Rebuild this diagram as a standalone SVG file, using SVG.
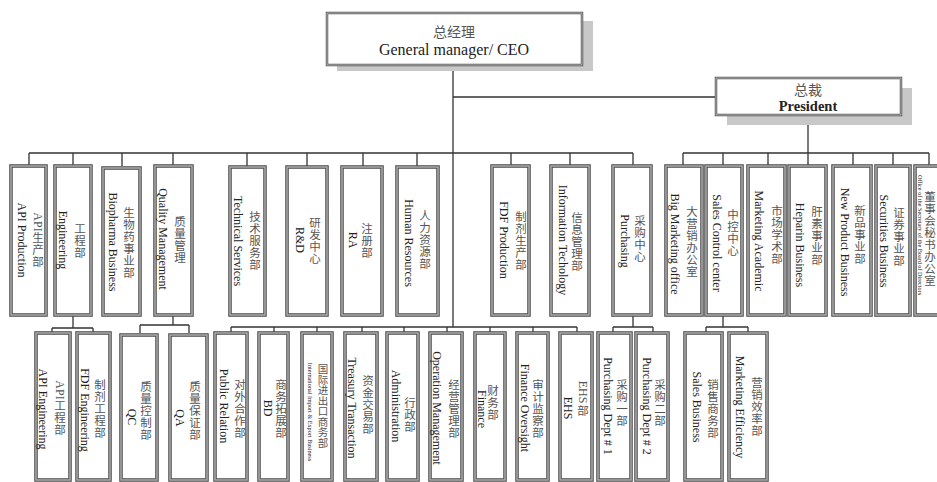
<svg xmlns="http://www.w3.org/2000/svg" width="937" height="482" viewBox="0 0 937 482">
<style>
.bg{fill:#fff}
.b{fill:#fff;stroke:#4a4a4a;stroke-width:3.5}
.bi{fill:none;stroke:#b4b4b4;stroke-width:1.4}
.sh{fill:#c8c8c8}
.ln{fill:none;stroke:#333;stroke-width:1.3}
.cn{font-family:"Noto Sans CJK SC","Noto Sans CJK TC",sans-serif;font-size:11.5px;fill:#555;text-anchor:middle}
.la{font-family:"Liberation Serif",serif;font-size:12px;fill:#555;text-anchor:middle;dominant-baseline:central}
.en{font-family:"Liberation Serif",serif;font-size:12px;fill:#222;writing-mode:vertical-rl;text-anchor:middle}
.tiny{font-size:6.2px}
.hc{font-family:"Noto Sans CJK SC",sans-serif;font-size:14px;fill:#555;text-anchor:middle}
.he{font-family:"Liberation Serif",serif;font-size:16px;fill:#222;text-anchor:middle}
</style>
<rect class="bg" x="0" y="0" width="937" height="482"/>

<g id="connectors">
<path class="ln" d="M453 65V327M453 97H716M808 115V153M29 153H633M683 153H929"/>
<path class="ln" d="M29 153V166M73 153V166M122 153V166M173 153V166M247 153V166M307 153V166M363 153V166M417 153V166M511 153V166M570 153V166M633 153V166"/>
<path class="ln" d="M683 153V166M723 153V166M768 153V166M808 153V166M853 153V166M893 153V166M929 153V166"/>
<path class="ln" d="M73 315V328M52 328H93M52 328V333M93 328V333"/>
<path class="ln" d="M173 315V325M140 325H189M140 325V333M189 325V333"/>
<path class="ln" d="M231 327H577M231 327V333M274 327V333M317 327V333M362 327V333M404 327V333M447 327V333M490 327V333M533 327V333M577 327V333"/>
<path class="ln" d="M633 315V327M613 327H653M613 327V333M653 327V333"/>
<path class="ln" d="M723 315V327M706 327H748M706 327V333M748 327V333"/>
</g>

<g id="ceo">
<rect class="sh" x="337" y="21" width="256" height="50"/>
<rect x="327" y="13" width="255" height="52" fill="#fff" stroke="#555" stroke-width="2.5"/>
<rect x="327" y="13" width="255" height="52" fill="none" stroke="#ccc" stroke-width="0.8"/>
<text class="hc" x="454" y="37">总经理</text>
<text class="he" x="454" y="55">General manager/ CEO</text>
</g>

<g id="president">
<rect class="sh" x="727" y="88" width="185" height="37"/>
<rect x="716" y="78" width="185" height="37" fill="#fff" stroke="#555" stroke-width="2.5"/>
<rect x="716" y="78" width="185" height="37" fill="none" stroke="#ccc" stroke-width="0.8"/>
<text class="hc" x="808" y="95">总裁</text>
<text class="he" x="808" y="111" style="font-size:14.5px;font-weight:bold">President</text>
</g>

<g id="api-production"><rect class="b" x="11" y="166" width="35" height="149"/><rect class="bi" x="11" y="166" width="35" height="149"/>
<text class="la" transform="translate(38 222) rotate(90)">API</text><text class="cn" x="38 38 38" y="242.2 254.2 266.2">生产部</text>
<text class="en" x="22" y="240">API Production</text></g>
<g id="engineering"><rect class="b" x="55" y="166" width="36" height="149"/><rect class="bi" x="55" y="166" width="36" height="149"/>
<text class="cn" x="80 80 80" y="232.5 244.5 256.5">工程部</text><text class="en" x="63" y="240">Engineering</text></g>
<g id="biopharma"><rect class="b" x="103" y="168" width="37" height="147"/><rect class="bi" x="103" y="168" width="37" height="147"/>
<text class="cn" x="129 129 129 129 129 129" y="216.5 228.5 240.5 252.5 264.5 276.5">生物药事业部</text><text class="en" x="113" y="242">Biopharma Business</text></g>
<g id="quality"><rect class="b" x="155" y="166" width="37" height="149"/><rect class="bi" x="155" y="166" width="37" height="149"/>
<text class="cn" x="180 180 180 180" y="225.5 237.5 249.5 261.5">质量管理</text><text class="en" x="163" y="239">Quality Management</text></g>
<g id="technical"><rect class="b" x="230" y="167" width="35" height="148"/><rect class="bi" x="230" y="167" width="35" height="148"/>
<text class="cn" x="255 255 255 255 255" y="220.5 232.5 244.5 256.5 268.5">技术服务部</text><text class="en" x="238" y="241">Technical  Services</text></g>
<g id="rnd"><rect class="b" x="287" y="167" width="40" height="148"/><rect class="bi" x="287" y="167" width="40" height="148"/>
<text class="cn" x="315 315 315 315" y="226.5 238.5 250.5 262.5">研发中心</text><text class="en" x="300" y="240">R&amp;D</text></g>
<g id="ra"><rect class="b" x="342" y="167" width="40" height="148"/><rect class="bi" x="342" y="167" width="40" height="148"/>
<text class="cn" x="367 367 367" y="232.5 244.5 256.5">注册部</text><text class="en" x="353" y="240">RA</text></g>
<g id="hr"><rect class="b" x="397" y="167" width="41" height="148"/><rect class="bi" x="397" y="167" width="41" height="148"/>
<text class="cn" x="425 425 425 425 425" y="219.5 231.5 243.5 255.5 267.5">人力资源部</text><text class="en" x="409" y="243">Human Resources</text></g>
<g id="fdf-production"><rect class="b" x="492" y="166" width="37" height="149"/><rect class="bi" x="492" y="166" width="37" height="149"/>
<text class="cn" x="521 521 521 521 521" y="220.5 232.5 244.5 256.5 268.5">制剂生产部</text><text class="en" x="504" y="240">FDF Production</text></g>
<g id="it"><rect class="b" x="551" y="166" width="38" height="149"/><rect class="bi" x="551" y="166" width="38" height="149"/>
<text class="cn" x="577 577 577 577 577" y="221.5 233.5 245.5 257.5 269.5">信息管理部</text><text class="en" x="563" y="240">Information  Techology</text></g>
<g id="purchasing"><rect class="b" x="613" y="166" width="38" height="149"/><rect class="bi" x="613" y="166" width="38" height="149"/>
<text class="cn" x="640 640 640 640" y="224.5 236.5 248.5 260.5">采购中心</text><text class="en" x="625" y="241">Purchasing</text></g>
<g id="big-marketing"><rect class="b" x="666" y="166" width="36" height="149"/><rect class="bi" x="666" y="166" width="36" height="149"/>
<text class="cn" x="692 692 692 692 692 692" y="215.5 227.5 239.5 251.5 263.5 275.5">大营销办公室</text><text class="en" x="675" y="244">Big Marketing office</text></g>
<g id="sales-control"><rect class="b" x="706" y="166" width="36" height="149"/><rect class="bi" x="706" y="166" width="36" height="149"/>
<text class="cn" x="733 733 733 733" y="218.5 230.5 242.5 254.5">中控中心</text><text class="en" x="717" y="243">Sales Control center</text></g>
<g id="marketing-academic"><rect class="b" x="748" y="166" width="37" height="149"/><rect class="bi" x="748" y="166" width="37" height="149"/>
<text class="cn" x="777 777 777 777 777" y="214.5 226.5 238.5 250.5 262.5">市场学术部</text><text class="en" x="759" y="241">Marketing Academic</text></g>
<g id="heparin"><rect class="b" x="789" y="166" width="37" height="149"/><rect class="bi" x="789" y="166" width="37" height="149"/>
<text class="cn" x="817 817 817 817 817" y="215.5 227.5 239.5 251.5 263.5">肝素事业部</text><text class="en" x="800" y="245">Heparin Business</text></g>
<g id="new-product"><rect class="b" x="833" y="166" width="38" height="149"/><rect class="bi" x="833" y="166" width="38" height="149"/>
<text class="cn" x="860 860 860 860 860" y="214.5 226.5 238.5 250.5 262.5">新品事业部</text><text class="en" x="845" y="242">New Product  Business</text></g>
<g id="securities"><rect class="b" x="876" y="166" width="34" height="149"/><rect class="bi" x="876" y="166" width="34" height="149"/>
<text class="cn" x="899 899 899 899 899" y="216.5 228.5 240.5 252.5 264.5">证券事业部</text><text class="en" x="884" y="241">Securities Business</text></g>
<g id="board-office"><rect class="b" x="915" y="166" width="30" height="149"/><rect class="bi" x="915" y="166" width="30" height="149"/>
<text class="cn" x="930 930 930 930 930 930 930 930" y="200.5 212.5 224.5 236.5 248.5 260.5 272.5 284.5">董事会秘书办公室</text><text class="en tiny" x="920" y="235">Office of the Secretary of the Board of Directors</text></g>

<g id="api-engineering"><rect class="b" x="36" y="333" width="34" height="147"/><rect class="bi" x="36" y="333" width="34" height="147"/>
<text class="la" transform="translate(60 390) rotate(90)">API</text><text class="cn" x="60 60 60" y="410.2 422.2 434.2">工程部</text>
<text class="en" x="43" y="409">API  Engineering</text></g>
<g id="fdf-engineering"><rect class="b" x="77" y="333" width="33" height="147"/><rect class="bi" x="77" y="333" width="33" height="147"/>
<text class="cn" x="100 100 100 100 100" y="388.5 400.5 412.5 424.5 436.5">制剂工程部</text><text class="en" x="85" y="410">FDF  Engineering</text></g>
<g id="qc"><rect class="b" x="121" y="335" width="36" height="145"/><rect class="bi" x="121" y="335" width="36" height="145"/>
<text class="cn" x="146 146 146 146 146" y="390.5 402.5 414.5 426.5 438.5">质量控制部</text><text class="en" x="132" y="417">QC</text></g>
<g id="qa"><rect class="b" x="170" y="335" width="37" height="145"/><rect class="bi" x="170" y="335" width="37" height="145"/>
<text class="cn" x="195 195 195 195 195" y="390.5 402.5 414.5 426.5 438.5">质量保证部</text><text class="en" x="180" y="418">QA</text></g>
<g id="public-relation"><rect class="b" x="215" y="333" width="32" height="147"/><rect class="bi" x="215" y="333" width="32" height="147"/>
<text class="cn" x="240 240 240 240 240" y="388.5 400.5 412.5 424.5 436.5">对外合作部</text><text class="en" x="224" y="406">Public Relation</text></g>
<g id="bd"><rect class="b" x="259" y="333" width="29" height="147"/><rect class="bi" x="259" y="333" width="29" height="147"/>
<text class="cn" x="281 281 281 281 281" y="388.5 400.5 412.5 424.5 436.5">商务拓展部</text><text class="en" x="268" y="408">BD</text></g>
<g id="intl-business"><rect class="b" x="302" y="333" width="30" height="147"/><rect class="bi" x="302" y="333" width="30" height="147"/>
<text class="cn" style="font-size:10.5px" x="323 323 323 323 323 323 323 323" y="373.3 383.8 394.3 404.8 415.3 425.8 436.3 446.8">国际进出口商务部</text><text class="en tiny" x="310" y="412">International Import &amp; Export Business</text></g>
<g id="treasury"><rect class="b" x="345" y="333" width="32" height="147"/><rect class="bi" x="345" y="333" width="32" height="147"/>
<text class="cn" x="368 368 368 368 368" y="384.5 396.5 408.5 420.5 432.5">资金交易部</text><text class="en" x="352" y="408">Treasury Transaction</text></g>
<g id="administration"><rect class="b" x="387" y="333" width="31" height="147"/><rect class="bi" x="387" y="333" width="31" height="147"/>
<text class="cn" x="410 410 410" y="406.5 418.5 430.5">行政部</text><text class="en" x="396" y="406">Administration</text></g>
<g id="operation"><rect class="b" x="430" y="333" width="32" height="147"/><rect class="bi" x="430" y="333" width="32" height="147"/>
<text class="cn" x="454 454 454 454 454" y="388.5 400.5 412.5 424.5 436.5">经营管理部</text><text class="en" x="437" y="408">Operation Management</text></g>
<g id="finance"><rect class="b" x="475" y="333" width="30" height="147"/><rect class="bi" x="475" y="333" width="30" height="147"/>
<text class="cn" x="493 493 493" y="394.5 406.5 418.5">财务部</text><text class="en" x="482" y="409">Finance</text></g>
<g id="finance-oversight"><rect class="b" x="517" y="333" width="31" height="147"/><rect class="bi" x="517" y="333" width="31" height="147"/>
<text class="cn" x="538 538 538 538 538" y="388.5 400.5 412.5 424.5 436.5">审计监察部</text><text class="en" x="525" y="408">Finance Oversight</text></g>
<g id="ehs"><rect class="b" x="560" y="333" width="32" height="147"/><rect class="bi" x="560" y="333" width="32" height="147"/>
<text class="la" transform="translate(583 392) rotate(90)">EHS</text><text class="cn" x="583" y="414.5">部</text>
<text class="en" x="568" y="408">EHS</text></g>
<g id="purchasing-1"><rect class="b" x="598" y="333" width="33" height="147"/><rect class="bi" x="598" y="333" width="33" height="147"/>
<text class="cn" x="622 622 622 622" y="388.5 400.5 412.5 424.5">采购一部</text><text class="en" x="608" y="406">Purchasing Dept # 1</text></g>
<g id="purchasing-2"><rect class="b" x="636" y="333" width="32" height="147"/><rect class="bi" x="636" y="333" width="32" height="147"/>
<text class="cn" x="660 660 660 660" y="388.5 400.5 412.5 424.5">采购二部</text><text class="en" x="647" y="406">Purchasing Dept # 2</text></g>
<g id="sales-business"><rect class="b" x="685" y="333" width="37" height="147"/><rect class="bi" x="685" y="333" width="37" height="147"/>
<text class="cn" x="713 713 713 713 713" y="388.5 400.5 412.5 424.5 436.5">销售商务部</text><text class="en" x="697" y="407">Sales  Business</text></g>
<g id="marketing-efficiency"><rect class="b" x="729" y="333" width="38" height="147"/><rect class="bi" x="729" y="333" width="38" height="147"/>
<text class="cn" x="757 757 757 757 757" y="386.5 398.5 410.5 422.5 434.5">营销效率部</text><text class="en" x="740" y="407">Marketing Efficiency</text></g>
</svg>
